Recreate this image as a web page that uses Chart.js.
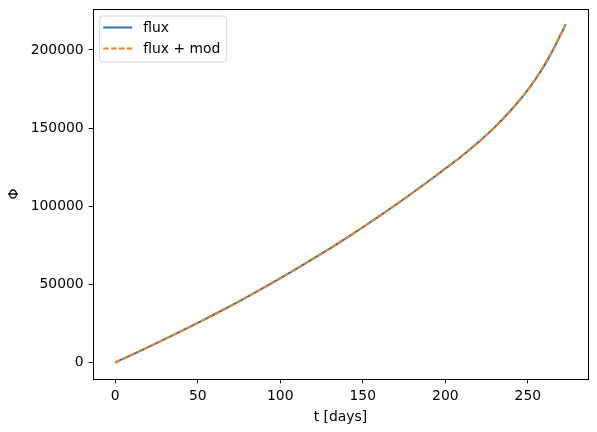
<!DOCTYPE html>
<html>
<head>
<meta charset="utf-8">
<script src="https://cdn.jsdelivr.net/npm/chart.js@4"></script>
<style>
  html, body { margin: 0; padding: 0; background: #fff; }
  #wrap { width: 597px; height: 432px; }
</style>
</head>
<body>
<div id="wrap"><canvas id="myChart" width="597" height="432"></canvas></div>
<script>
// values
const days = [0, 10, 20, 30, 40, 50, 60, 70, 80, 90, 100, 110, 120, 130, 140, 150,
              160, 170, 180, 190, 200, 210, 220, 230, 240, 250, 255, 260, 265, 270, 273];
const flux = [0, 4900, 9850, 14900, 20050, 25300, 30700, 36250, 41950, 47850, 53950,
              60100, 66400, 72900, 79600, 86500, 93600, 100900, 108400, 116100, 124000,
              132100, 140900, 150600, 161700, 174400, 181900, 190100, 199500, 210000, 216500];
const fluxMod = [0, 4900, 9850, 14900, 20050, 25300, 30700, 36250, 41950, 47850, 53950,
              60100, 66400, 72900, 79600, 86500, 93600, 100900, 108400, 116100, 124000,
              132100, 140900, 150600, 161700, 174400, 181900, 190100, 199500, 210000, 216500];
const xTicks = [0, 50, 100, 150, 200, 250];
const yTicks = [0, 50000, 100000, 150000, 200000];

const FONT = "'DejaVu Sans', sans-serif";
const SIZE = 13.9;

const toPts = (xs, ys) => xs.map((x, i) => ({ x: x, y: ys[i] }));

// box around the plot area + matplotlib style legend in the upper left
const frame = {
    id: 'frame',
    afterDatasetsDraw(chart) {
        const { ctx, chartArea: a } = chart;
        ctx.save();
        ctx.strokeStyle = '#000';
        ctx.lineWidth = 1;
        ctx.strokeRect(Math.round(a.left) + 0.5, Math.round(a.top) + 0.5,
                       Math.round(a.right - a.left) - 1, Math.round(a.bottom - a.top));

        // legend
        const x0 = a.left + 6.5, y0 = a.top + 6.5, w = 127, h = 46;
        ctx.beginPath();
        ctx.roundRect(x0 + 0.5, y0 + 0.5, w, h, 3);
        ctx.fillStyle = 'rgba(255,255,255,0.8)';
        ctx.fill();
        ctx.strokeStyle = '#d6d6d6';
        ctx.stroke();
        ctx.font = SIZE + 'px ' + FONT;
        ctx.textBaseline = 'middle';
        chart.data.datasets.forEach((ds, i) => {
            const ly = y0 + 12 + i * 21;
            ctx.beginPath();
            ctx.setLineDash(ds.borderDash || []);
            ctx.strokeStyle = ds.borderColor;
            ctx.lineWidth = ds.borderWidth;
            ctx.moveTo(x0 + 4, ly);
            ctx.lineTo(x0 + 33, ly);
            ctx.stroke();
            ctx.setLineDash([]);
            ctx.fillStyle = '#000';
            ctx.fillText(ds.label, x0 + 44, ly + 1);
        });
        ctx.restore();
    }
};

const ctx = document.getElementById('myChart');
new Chart(ctx, {
    type: 'line',
    data: {
        datasets: [{
            label: 'flux',
            data: toPts(days, flux),
            borderColor: '#1f77b4',
            borderWidth: 2,
            pointRadius: 0,
            cubicInterpolationMode: 'monotone',
            fill: false,
            order: 2
        }, {
            label: 'flux + mod',
            data: toPts(days, fluxMod),
            borderColor: '#ff7f0e',
            borderWidth: 2,
            borderDash: [5.5, 2.4],
            pointRadius: 0,
            cubicInterpolationMode: 'monotone',
            fill: false,
            order: 1
        }]
    },
    options: {
        responsive: false,
        animation: false,
        layout: { padding: { left: 0, top: 9, right: 8.7, bottom: 0 } },
        plugins: { legend: { display: false }, tooltip: { enabled: false } },
        scales: {
            x: {
                type: 'linear',
                min: -13.65,
                max: 286.65,
                afterBuildTicks: s => { s.ticks = xTicks.map(v => ({ value: v })); },
                afterFit: s => { s.height = 52.7; s.paddingLeft = 0; s.paddingRight = 0; },
                grid: { display: true, drawOnChartArea: false, drawTicks: true, tickLength: 4, color: '#000' },
                border: { display: false },
                ticks: { color: '#000', font: { family: FONT, size: SIZE }, padding: 5, maxRotation: 0 },
                title: { display: true, text: 't [days]', color: '#000', font: { family: FONT, size: SIZE }, padding: { top: 0, bottom: 6 } }
            },
            y: {
                type: 'linear',
                min: -10770,
                max: 226170,
                afterBuildTicks: s => { s.ticks = yTicks.map(v => ({ value: v })); },
                afterFit: s => { s.width = 92.7; s.paddingTop = 0; s.paddingBottom = 0; },
                grid: { display: true, drawOnChartArea: false, drawTicks: true, tickLength: 4, color: '#000' },
                border: { display: false },
                ticks: { color: '#000', font: { family: FONT, size: SIZE }, padding: 5, callback: v => String(v) },
                title: { display: true, text: 'Φ', color: '#000', font: { family: FONT, size: SIZE }, padding: { top: 6, bottom: 0 } }
            }
        }
    },
    plugins: [frame]
});
</script>
</body>
</html>
